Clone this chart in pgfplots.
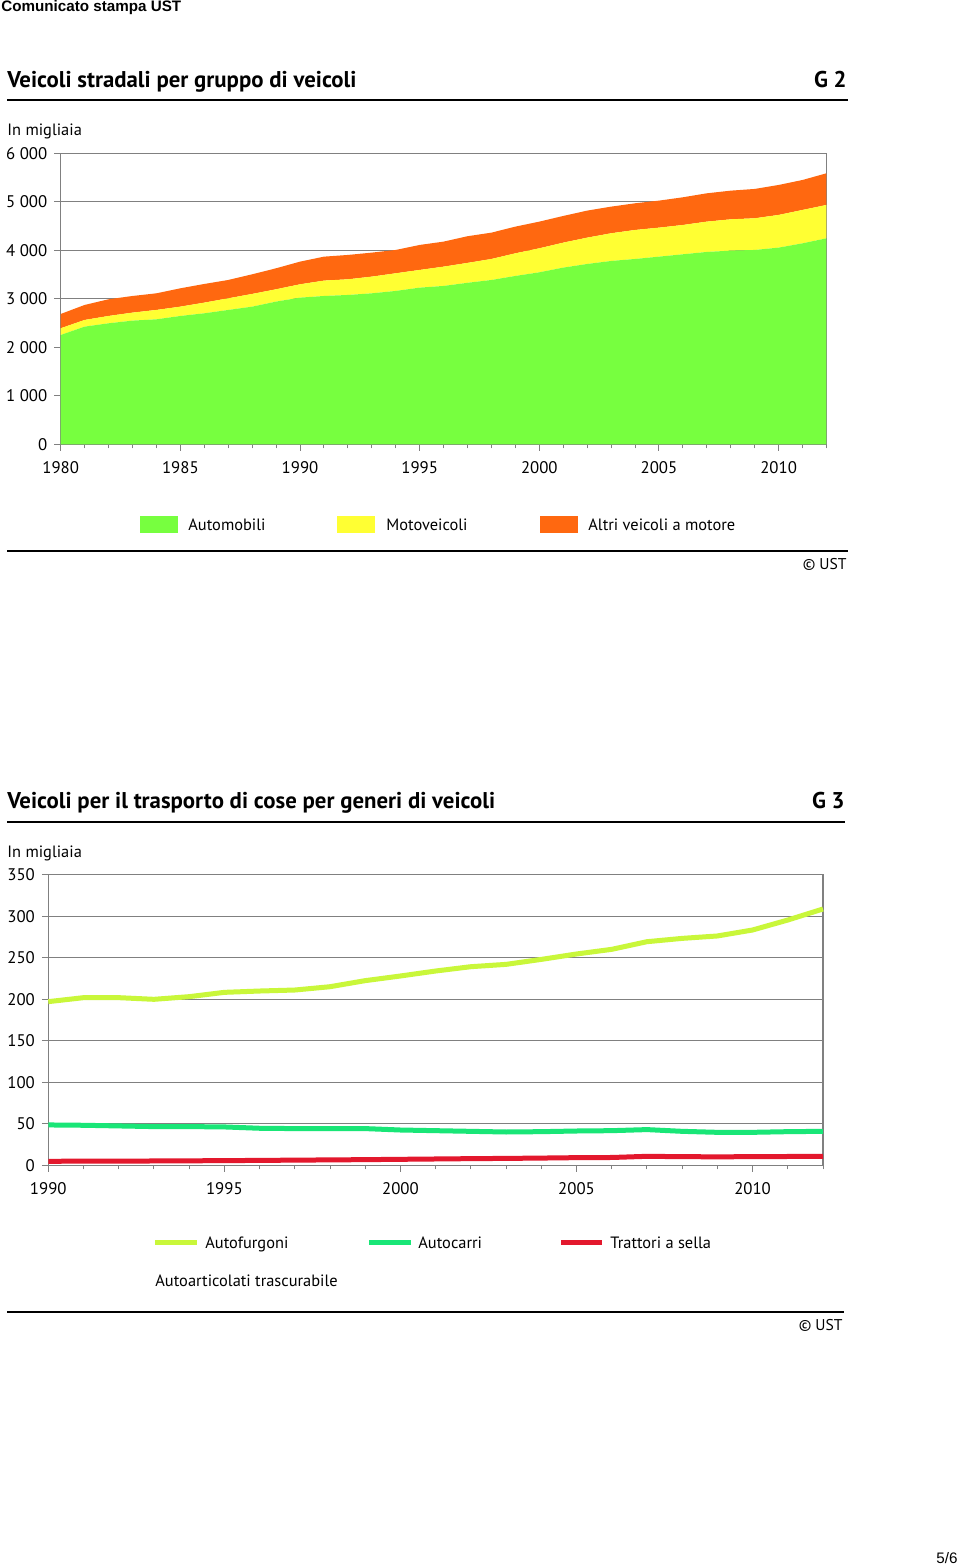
\documentclass[border=0pt]{standalone}
\usepackage{pgfplots}
\pgfplotsset{compat=1.18}
\usepackage{pgfplotstable}
\usepackage{fontspec}
\setmainfont{PT Sans}
\newfontfamily\arialfont{Liberation Sans}

\definecolor{cAuto}{RGB}{119,255,63}
\definecolor{cMoto}{RGB}{255,255,51}
\definecolor{cAltri}{RGB}{255,104,16}
\definecolor{cFurg}{RGB}{201,247,58}
\definecolor{cCarri}{RGB}{25,230,119}
\definecolor{cTratt}{RGB}{227,24,45}
\definecolor{cGrid}{RGB}{128,128,128}

\pgfplotstableread{
year auto moto altri
1980 2254 138 295
1981 2426 138 309
1982 2495 151 344
1983 2550 165 343
1984 2577 193 343
1985 2646 192 378
1986 2701 220 385
1987 2770 240 378
1988 2838 262 405
1989 2942 254 433
1990 3024 275 467
1991 3058 317 494
1992 3079 323 502
1993 3113 344 495
1994 3162 364 481
1995 3230 365 515
1996 3265 398 516
1997 3330 410 550
1998 3388 433 543
1999 3471 467 550
2000 3546 495 550
2001 3643 515 550
2002 3718 543 557
2003 3780 571 549
2004 3821 598 550
2005 3869 598 557
2006 3918 604 571
2007 3966 625 584
2008 3993 646 591
2009 4007 653 605
2010 4055 674 618
2011 4144 688 618
2012 4247 688 653
}\tabA

\pgfplotstableread{
year furg carri tratt
1990 197.1 48.6 4.8
1991 201.9 48.2 5.0
1992 201.9 47.4 5.0
1993 199.9 46.6 5.2
1994 203.1 46.6 5.4
1995 208.3 46.2 5.6
1996 209.9 44.6 5.9
1997 211.1 44.2 6.2
1998 215.1 44.2 6.5
1999 222.4 44.2 6.8
2000 228.0 42.5 7.2
2001 234.0 41.7 7.6
2002 239.2 40.9 8.0
2003 242.0 40.1 8.3
2004 248.0 40.5 8.7
2005 254.5 41.3 9.2
2006 260.1 41.7 9.4
2007 269.3 43.0 10.8
2008 273.3 40.9 10.4
2009 276.2 39.7 10.2
2010 283.4 39.7 10.4
2011 295.4 40.5 10.6
2012 308.7 40.9 10.8
}\tabB

\pgfplotsset{
  vstyle/.style={
    scale only axis,
    anchor=south west,
    axis line style={cGrid, line width=0.6pt},
    ymajorgrids,
    grid style={cGrid, line width=0.6pt},
    tick align=outside,
    tick pos=left,
    major tick length=3.2pt,
    minor tick length=2pt,
    tick style={cGrid, line width=0.5pt},
    tick label style={font=\fontsize{8.4}{10}\selectfont},
    xticklabel style={yshift=-2pt},
    clip=true,
  }
}

\newcommand{\tx}{\fontsize{8.2}{10}\selectfont}
\newcommand{\ttl}{\bfseries\fontsize{11.4}{13}\selectfont}

\begin{document}
\begin{tikzpicture}
\useasboundingbox (0,0) rectangle (480pt,782.5pt);
\fill[white] (0,0) rectangle (480pt,782.5pt);

\node[anchor=base west, inner sep=0, font=\arialfont\bfseries\fontsize{7.6}{9}\selectfont] at (0.5pt,776.5pt) {Comunicato stampa UST};

% ---------- Chart G2 ----------
\node[anchor=base west, inner sep=0, font=\ttl] at (3.5pt,738.5pt) {Veicoli stradali per gruppo di veicoli};
\node[anchor=base east, inner sep=0, font=\ttl] at (423.5pt,738.5pt) {G 2};
\draw[line width=1.3pt] (3.5pt,732.5pt) -- (424pt,732.5pt);
\node[anchor=base west, inner sep=0, font=\tx] at (3.5pt,714.5pt) {In migliaia};

\begin{axis}[vstyle,
  at={(30.35pt,560.35pt)}, width=382.9pt, height=145.5pt,
  xmin=1980, xmax=2012, ymin=0, ymax=6000,
  xtick={1980,1985,1990,1995,2000,2005,2010},
  xticklabels={1980,1985,1990,1995,2000,2005,2010},
  minor xtick={1980,1981,...,2012},
  ytick={0,1000,2000,3000,4000,5000,6000},
  yticklabels={0,1 000,2 000,3 000,4 000,5 000,6 000},
  stack plots=y,
]
\addplot[fill=cAuto, draw=none] table[x=year,y=auto]{\tabA} \closedcycle;
\addplot[fill=cMoto, draw=none] table[x=year,y=moto]{\tabA} \closedcycle;
\addplot[fill=cAltri, draw=none] table[x=year,y=altri]{\tabA} \closedcycle;
\end{axis}

\fill[cAuto] (70pt,516pt) rectangle (89pt,524.5pt);
\fill[cMoto] (168.5pt,516pt) rectangle (187.5pt,524.5pt);
\fill[cAltri] (270pt,516pt) rectangle (289pt,524.5pt);
\node[anchor=base west, inner sep=0, font=\tx] at (94pt,517pt) {Automobili};
\node[anchor=base west, inner sep=0, font=\tx] at (193pt,517pt) {Motoveicoli};
\node[anchor=base west, inner sep=0, font=\tx] at (294pt,517pt) {Altri veicoli a motore};
\draw[line width=0.9pt] (3.5pt,507pt) -- (424pt,507pt);
\node[anchor=base east, inner sep=0, font=\fontsize{7.8}{9}\selectfont] at (423.5pt,497.5pt) {© UST};

% ---------- Chart G3 ----------
\node[anchor=base west, inner sep=0, font=\ttl] at (3.5pt,378pt) {Veicoli per il trasporto di cose per generi di veicoli};
\node[anchor=base east, inner sep=0, font=\ttl] at (422.5pt,378pt) {G 3};
\draw[line width=1.3pt] (3.5pt,371.5pt) -- (422.5pt,371.5pt);
\node[anchor=base west, inner sep=0, font=\tx] at (3.5pt,353.5pt) {In migliaia};

\begin{axis}[vstyle,
  at={(24.15pt,199.85pt)}, width=387.35pt, height=145.3pt,
  xmin=1990, xmax=2012, ymin=0, ymax=350,
  xtick={1990,1995,2000,2005,2010},
  xticklabels={1990,1995,2000,2005,2010},
  minor xtick={1990,1991,...,2012},
  ytick={0,50,100,150,200,250,300,350},
  yticklabels={0,50,100,150,200,250,300,350},
  clip=false,
]
\addplot[cFurg, line width=2.5pt, no marks] table[x=year,y=furg]{\tabB};
\addplot[cCarri, line width=2.5pt, no marks] table[x=year,y=carri]{\tabB};
\addplot[cTratt, line width=2.5pt, no marks] table[x=year,y=tratt]{\tabB};
\end{axis}

\draw[cFurg, line width=2.5pt] (77.5pt,161pt) -- (98.5pt,161pt);
\draw[cCarri, line width=2.5pt] (184.5pt,161pt) -- (205.5pt,161pt);
\draw[cTratt, line width=2.5pt] (280.5pt,161pt) -- (301pt,161pt);
\node[anchor=base west, inner sep=0, font=\tx] at (102.5pt,158pt) {Autofurgoni};
\node[anchor=base west, inner sep=0, font=\tx] at (209pt,158pt) {Autocarri};
\node[anchor=base west, inner sep=0, font=\tx] at (305pt,158pt) {Trattori a sella};
\node[anchor=base west, inner sep=0, font=\tx] at (77.5pt,139pt) {Autoarticolati trascurabile};
\draw[line width=0.9pt] (3.5pt,126.5pt) -- (422pt,126.5pt);
\node[anchor=base east, inner sep=0, font=\fontsize{7.8}{9}\selectfont] at (421.5pt,117pt) {© UST};

\node[anchor=base east, inner sep=0, font=\arialfont\fontsize{7.6}{9}\selectfont] at (479pt,1pt) {5/6};
\end{tikzpicture}
\end{document}
